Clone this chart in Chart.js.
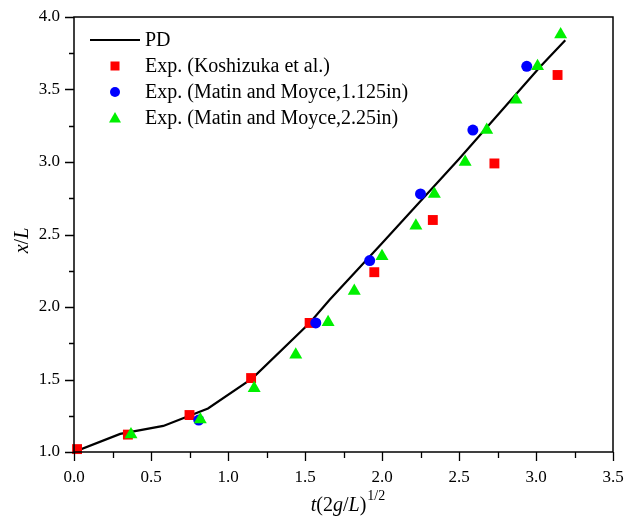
<!DOCTYPE html>
<html>
<head>
<meta charset="utf-8">
<script src="https://cdn.jsdelivr.net/npm/chart.js@4/dist/chart.umd.min.js"></script>
<style>
  html, body { margin: 0; padding: 0; background: #fff; }
  #wrap { width: 624px; height: 518px; }
</style>
</head>
<body>
<div id="wrap"><canvas id="c"></canvas></div>
<script>
// PD simulation curve
const pdX = [0.0, 0.30, 0.58, 0.87, 1.16, 1.53, 1.66, 2.0, 2.5, 3.03, 3.19];
const pdY = [1.0, 1.125, 1.18, 1.30, 1.51, 1.89, 2.05, 2.44, 3.02, 3.66, 3.84];

// Exp. (Koshizuka et al.)
const koshX = [0.02, 0.35, 0.75, 1.15, 1.53, 1.95, 2.33, 2.73, 3.14];
const koshY = [1.02, 1.12, 1.255, 1.51, 1.89, 2.24, 2.60, 2.99, 3.60];

// Exp. (Matin and Moyce, 1.125in)
const m1X = [0.81, 1.57, 1.92, 2.25, 2.59, 2.94];
const m1Y = [1.22, 1.89, 2.32, 2.78, 3.22, 3.66];

// Exp. (Matin and Moyce, 2.25in)
const m2X = [0.37, 0.82, 1.17, 1.44, 1.65, 1.82, 2.0, 2.22, 2.34, 2.54, 2.68, 2.87, 3.01, 3.16];
const m2Y = [1.12, 1.225, 1.44, 1.67, 1.895, 2.11, 2.35, 2.56, 2.78, 3.0, 3.22, 3.43, 3.66, 3.88];

const xTickLabels = ['0.0', '0.5', '1.0', '1.5', '2.0', '2.5', '3.0', '3.5'];
const yTickLabels = ['1.0', '1.5', '2.0', '2.5', '3.0', '3.5', '4.0'];

const legendLabels = ['PD', 'Exp. (Koshizuka et al.)', 'Exp. (Matin and Moyce,1.125in)', 'Exp. (Matin and Moyce,2.25in)'];

const SERIF = '"Liberation Serif", "Times New Roman", serif';
const GREEN = '#00f000';

function pts(xs, ys) {
  return xs.map(function(x, i) { return { x: x, y: ys[i] }; });
}

// frame, minor/major ticks, axis titles, legend
const decor = {
  id: 'decor',
  afterDraw(chart) {
    const ctx = chart.ctx;
    const a = chart.chartArea;
    const xs = chart.scales.x, ys = chart.scales.y;
    ctx.save();
    ctx.strokeStyle = '#000';
    ctx.lineWidth = 1.5;
    ctx.strokeRect(a.left, a.top, a.right - a.left, a.bottom - a.top);

    ctx.lineWidth = 1.3;
    ctx.beginPath();
    for (let i = 0; i <= 14; i++) {
      const v = i * 0.25;
      const px = Math.round(xs.getPixelForValue(v)) + 0.5;
      const len = (i % 2 === 0) ? 9 : 6;
      ctx.moveTo(px, a.bottom);
      ctx.lineTo(px, a.bottom + len);
    }
    for (let i = 0; i <= 12; i++) {
      const v = 1 + i * 0.25;
      const py = Math.round(ys.getPixelForValue(v)) + 0.5;
      const len = (i % 2 === 0) ? 9 : 5;
      ctx.moveTo(a.left, py);
      ctx.lineTo(a.left - len, py);
    }
    ctx.stroke();

    // x title: t(2g/L)^{1/2}
    ctx.fillStyle = '#000';
    ctx.textBaseline = 'alphabetic';
    ctx.textAlign = 'left';
    const parts = [
      ['italic', 't'], ['normal', '(2'], ['italic', 'g'], ['normal', '/'], ['italic', 'L'], ['normal', ')']
    ];
    let total = 0;
    parts.forEach(function(p) {
      ctx.font = p[0] + ' 20px ' + SERIF;
      total += ctx.measureText(p[1]).width;
    });
    ctx.font = 'normal 14px ' + SERIF;
    const supW = ctx.measureText('1/2').width;
    let x0 = (a.left + a.right) / 2 - (total + supW) / 2 + 4;
    parts.forEach(function(p) {
      ctx.font = p[0] + ' 20px ' + SERIF;
      ctx.fillText(p[1], x0, 511);
      x0 += ctx.measureText(p[1]).width;
    });
    ctx.font = 'normal 14px ' + SERIF;
    ctx.fillText('1/2', x0 + 1, 500);

    // y title: x/L
    ctx.save();
    ctx.translate(28, (a.top + a.bottom) / 2 + 6);
    ctx.rotate(-Math.PI / 2);
    const yparts = [['italic', 'x'], ['normal', '/'], ['italic', 'L']];
    let yw = 0;
    yparts.forEach(function(p) {
      ctx.font = p[0] + ' 20px ' + SERIF;
      yw += ctx.measureText(p[1]).width;
    });
    let y0 = -yw / 2;
    yparts.forEach(function(p) {
      ctx.font = p[0] + ' 20px ' + SERIF;
      ctx.fillText(p[1], y0, 0);
      y0 += ctx.measureText(p[1]).width;
    });
    ctx.restore();

    // legend
    const rows = [40, 66, 92, 118];
    const mx = 115;
    ctx.font = 'normal 20px ' + SERIF;
    ctx.textBaseline = 'middle';
    rows.forEach(function(ry, i) {
      if (i === 0) {
        ctx.strokeStyle = '#000';
        ctx.lineWidth = 2;
        ctx.beginPath();
        ctx.moveTo(90, ry);
        ctx.lineTo(140, ry);
        ctx.stroke();
      } else if (i === 1) {
        ctx.fillStyle = '#ff0000';
        ctx.fillRect(mx - 4.5, ry - 4.5, 9, 9);
      } else if (i === 2) {
        ctx.fillStyle = '#0000ff';
        ctx.beginPath();
        ctx.arc(mx, ry, 5, 0, Math.PI * 2);
        ctx.fill();
      } else {
        ctx.fillStyle = GREEN;
        ctx.beginPath();
        ctx.moveTo(mx, ry - 6);
        ctx.lineTo(mx + 6, ry + 4.5);
        ctx.lineTo(mx - 6, ry + 4.5);
        ctx.closePath();
        ctx.fill();
      }
      ctx.fillStyle = '#000';
      ctx.fillText(legendLabels[i], 145, ry + 1);
    });
    ctx.restore();
  }
};

new Chart(document.getElementById('c'), {
  type: 'scatter',
  data: {
    datasets: [
      {
        type: 'line',
        label: legendLabels[0],
        data: pts(pdX, pdY),
        borderColor: '#000',
        borderWidth: 2.2,
        pointRadius: 0,
        fill: false,
        tension: 0,
        order: 4
      },
      {
        label: legendLabels[1],
        data: pts(koshX, koshY),
        pointStyle: 'rect',
        pointRadius: 7,
        backgroundColor: '#ff0000',
        borderWidth: 0,
        clip: false,
        order: 3
      },
      {
        label: legendLabels[2],
        data: pts(m1X, m1Y),
        pointStyle: 'circle',
        pointRadius: 5.5,
        backgroundColor: '#0000ff',
        borderWidth: 0,
        order: 2
      },
      {
        label: legendLabels[3],
        data: pts(m2X, m2Y),
        pointStyle: 'triangle',
        pointRadius: 7.5,
        backgroundColor: GREEN,
        borderWidth: 0,
        clip: false,
        order: 1
      }
    ]
  },
  options: {
    responsive: true,
    maintainAspectRatio: false,
    animation: false,
    layout: { padding: { top: 17, right: 11, left: 0, bottom: 0 } },
    plugins: {
      legend: { display: false },
      tooltip: { enabled: false }
    },
    scales: {
      x: {
        type: 'linear',
        min: 0,
        max: 3.5,
        grid: { display: false, drawTicks: true, tickLength: 9 },
        border: { display: false },
        ticks: {
          stepSize: 0.5,
          padding: 6,
          color: '#000',
          font: { family: SERIF, size: 17 },
          maxRotation: 0,
          callback: function(v, i) { return xTickLabels[i]; }
        },
        afterFit: function(s) {
          s.height = 66;
          s.paddingLeft = 0;
          s.paddingRight = 0;
        }
      },
      y: {
        type: 'linear',
        min: 1,
        max: 4,
        grid: { display: false, drawTicks: true, tickLength: 9 },
        border: { display: false },
        ticks: {
          stepSize: 0.5,
          padding: 5,
          color: '#000',
          font: { family: SERIF, size: 17 },
          callback: function(v, i) { return yTickLabels[i]; }
        },
        afterFit: function(s) {
          s.width = 74;
          s.paddingTop = 0;
          s.paddingBottom = 0;
        }
      }
    }
  },
  plugins: [decor]
});
</script>
</body>
</html>
